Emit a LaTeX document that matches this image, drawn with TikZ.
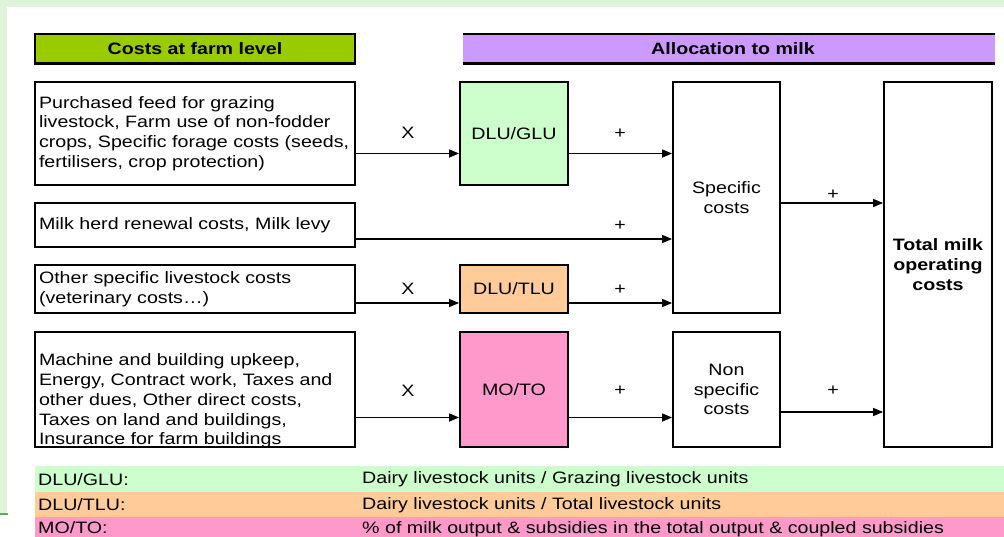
\documentclass[tikz,border=0pt]{standalone}
\usepackage{fontspec}
\setmainfont[FakeStretch=1.19]{Liberation Sans}
\usetikzlibrary{arrows.meta,calc}
\definecolor{bgg}{HTML}{DDF4D8}
\definecolor{frameline}{HTML}{5DB13A}
\definecolor{hdrgreen}{HTML}{99CC00}
\definecolor{hdrpurple}{HTML}{CC99FF}
\definecolor{glu}{HTML}{CCFFCC}
\definecolor{tlu}{HTML}{FFCC99}
\definecolor{moto}{HTML}{FF99CC}
\newcommand{\dfont}{\fontsize{16.5}{19.8}\selectfont}
\tikzset{
  box/.style={draw=black, line width=1.8pt, fill=white, inner sep=0pt, font=\dfont},
  costbox/.style={box, minimum width=320pt, text width=312pt, align=left},
  txt/.style={inner sep=0pt, font=\dfont},
  lab/.style={inner sep=0pt, font=\dfont},
  conn/.style={draw=black, line width=1.3pt, -{Triangle[length=10pt,width=8pt]}},
  hdr/.style={inner sep=0pt, font=\dfont\bfseries},
  legrow/.style={inner sep=0pt, minimum width=969pt, minimum height=25.5pt, anchor=west}
}
\begin{document}
\begin{tikzpicture}[x=1pt,y=-1pt]
\useasboundingbox (0,0) rectangle (1004,537);
\fill[white] (0,0) rectangle (1004,537);
\fill[bgg] (0,0) rectangle (1004,7);
\fill[bgg] (0,0) rectangle (7,514);
\draw[frameline, line width=1.5pt] (0,514) -- (8,514);

% headers
\node[hdr, fill=hdrgreen, draw=black, line width=1.5pt, minimum width=320pt, minimum height=29pt] (H1) at (195,48.5) {};
\draw[black, line width=3pt] (H1.south west) -- (H1.south east);
\node[hdr] (H1t) at (195,48.5) {Costs at farm level};
\node[hdr, fill=hdrpurple, minimum width=532pt, minimum height=29pt] (H2) at (729,48.5) {};
\draw[black, line width=1.5pt] (H2.north west) -- (H2.north east);
\draw[black, line width=3pt] (H2.south west) -- (H2.south east);
\node[hdr] (H2t) at (733,48.5) {Allocation to milk};

% cost boxes
\node[costbox, minimum height=103pt] (A) at (195,133.5) {Purchased feed for grazing\\ livestock, Farm use of non-fodder\\ crops, Specific forage costs (seeds,\\ fertilisers, crop protection)};
\node[costbox, minimum height=44pt] (B) at (195,225) {Milk herd renewal costs, Milk levy};
\node[costbox, minimum height=48pt] (C) at (195,289) {Other specific livestock costs\\ (veterinary costs\ldots)};
\node[box, minimum width=320pt, minimum height=115pt] (D) at (195,389.5) {};
\node[txt, text width=312pt, align=left] (Dt) at (195,401) {Machine and building upkeep,\\ Energy, Contract work, Taxes and\\ other dues, Other direct costs,\\ Taxes on land and buildings,\\ Insurance for farm buildings};

% coefficient boxes
\node[box, fill=glu, minimum width=108pt, minimum height=103pt] (GLU) at (514,133.5) {DLU/GLU};
\node[box, fill=tlu, minimum width=108pt, minimum height=48pt] (TLU) at (514,289) {DLU/TLU};
\node[box, fill=moto, minimum width=108pt, minimum height=115pt] (MOTO) at (514,389.5) {MO/TO};

% aggregate boxes
\node[box, minimum width=107pt, minimum height=231pt, align=center] (SPEC) at (726.5,197.5) {Specific\\ costs};
\node[box, minimum width=107pt, minimum height=115pt, align=center] (NONS) at (726.5,389.5) {Non\\ specific\\ costs};
\node[box, minimum width=108pt, minimum height=365pt, align=center, font=\dfont\bfseries] (TOT) at (938,264.5) {Total milk\\ operating\\ costs};

% row levels
\coordinate (r1) at (0,153.5);
\coordinate (r2) at (0,239);
\coordinate (r3) at (0,303);
\coordinate (r4) at (0,417.5);
\coordinate (r5) at (0,203);
\coordinate (r6) at (0,412);

% connectors
\draw[conn] (A.east |- r1) -- (GLU.west |- r1);
\draw[conn] (GLU.east |- r1) -- (SPEC.west |- r1);
\draw[conn] (B.east |- r2) -- (SPEC.west |- r2);
\draw[conn] (C.east |- r3) -- (TLU.west |- r3);
\draw[conn] (TLU.east |- r3) -- (SPEC.west |- r3);
\draw[conn] (D.east |- r4) -- (MOTO.west |- r4);
\draw[conn] (MOTO.east |- r4) -- (NONS.west |- r4);
\draw[conn] (SPEC.east |- r5) -- (TOT.west |- r5);
\draw[conn] (NONS.east |- r6) -- (TOT.west |- r6);

% connector labels
\node[lab] (x1) at (408,133) {X};
\node[lab] (x2) at (408,289) {X};
\node[lab] (x3) at (408,391) {X};
\node[lab] (p1) at (620,134) {+};
\node[lab] (p2) at (620,226) {+};
\node[lab] (p3) at (620,290) {+};
\node[lab] (p4) at (620,391) {+};
\node[lab] (p5) at (833,195) {+};
\node[lab] (p6) at (833,391) {+};

% legend
\node[legrow, fill=glu] (L1) at (35,479) {};
\node[legrow, fill=tlu] (L2) at (35,504.5) {};
\node[legrow, fill=moto] (L3) at (35,530) {};
\node[txt, anchor=west] (L1a) at (38,479.5) {DLU/GLU:};
\node[txt, anchor=west] (L1b) at (362,479.5) {Dairy livestock units / Grazing livestock units};
\node[txt, anchor=west] (L2a) at (38,505) {DLU/TLU:};
\node[txt, anchor=west] (L2b) at (362,505) {Dairy livestock units / Total livestock units};
\node[txt, anchor=base west] (L3a) at (38,533) {MO/TO:};
\node[txt, anchor=base west] (L3b) at (362,533) {\% of milk output \& subsidies in the total output \& coupled subsidies};
\end{tikzpicture}
\end{document}
